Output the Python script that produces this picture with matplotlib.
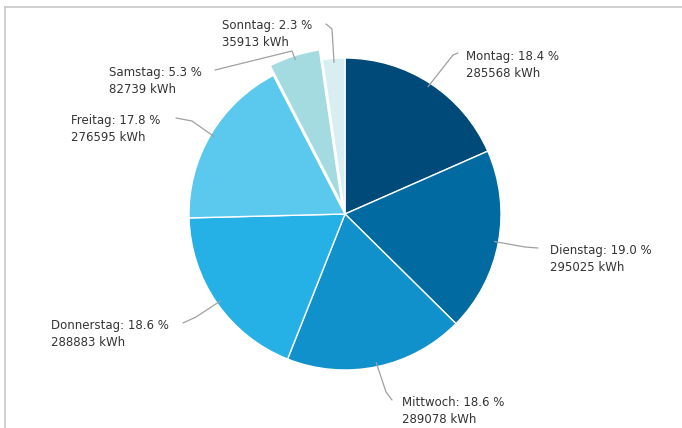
import numpy as np
import matplotlib.pyplot as plt
from matplotlib.lines import Line2D

# Energieverbrauch nach Wochentag
days = ["Montag", "Dienstag", "Mittwoch", "Donnerstag", "Freitag", "Samstag", "Sonntag"]
percent = [18.4, 19.0, 18.6, 18.6, 17.8, 5.3, 2.3]
kwh = [285568, 295025, 289078, 288883, 276595, 82739, 35913]
colors = ["#004a7a", "#006aa1", "#1191cb", "#25b0e6", "#5bc8ee", "#a3dbe0", "#d8eef1"]
explode = [0, 0, 0, 0, 0, 0.065, 0]   # fraction of the radius

W, H = 682, 428
CX, CY, R = 345, 214, 156   # pixel layout of the pie

# label text positions (left x, vertical center y) in pixels, y from top
label_pos = [(466, 65), (550, 259), (402, 411), (51, 334), (71, 129), (109, 81), (222, 34)]
# connector elbow and end points in pixels, y from top
conn_elbow = [(453, 55), (525, 247), (386, 392), (196, 317), (192, 121), (292, 51), (332, 29)]
conn_end = [(458, 53), (538, 248), (392, 400), (183, 323), (176, 118), (215, 70), (326, 24)]

fig = plt.figure(figsize=(W / 100, H / 100), dpi=100)
ax = fig.add_axes([0, 0, 1, 1])

# matplotlib's explode is in data units, not a fraction of the radius
ax.pie(
    percent, colors=colors, explode=[e * R for e in explode], startangle=90,
    counterclock=False, center=(CX, H - CY), radius=R,
    wedgeprops=dict(edgecolor="white", linewidth=1),
)
ax.set_xlim(0, W)
ax.set_ylim(0, H)
ax.set_aspect("equal")
ax.axis("off")

# connectors + labels
total = sum(percent)
start = 0.0
for i, day in enumerate(days):
    mid = start + percent[i] / 2
    start += percent[i]
    ang = np.deg2rad(90 - mid / total * 360)
    off = explode[i] * R
    ex = CX + (R + off - 4) * np.cos(ang)
    ey = (H - CY) + (R + off - 4) * np.sin(ang)
    bx, by = conn_elbow[i]
    tx, ty = conn_end[i]
    ax.plot([ex, bx, tx], [ey, H - by, H - ty], color="#a0a0a0", lw=0.9,
            solid_capstyle="round", solid_joinstyle="round")
    lx, ly = label_pos[i]
    ax.text(lx, H - ly, f"{day}: {percent[i]:.1f} %\n{kwh[i]} kWh",
            ha="left", va="center", fontsize=8.5, color="#333333",
            linespacing=1.4)

# chart frame
fig.add_artist(Line2D([5 / W, 1], [1 - 7 / H, 1 - 7 / H], color="#c8c8c8", lw=1.2))
fig.add_artist(Line2D([5 / W, 5 / W], [0, 1 - 7 / H], color="#c8c8c8", lw=1.2))

fig.savefig("out.png", dpi=100)
